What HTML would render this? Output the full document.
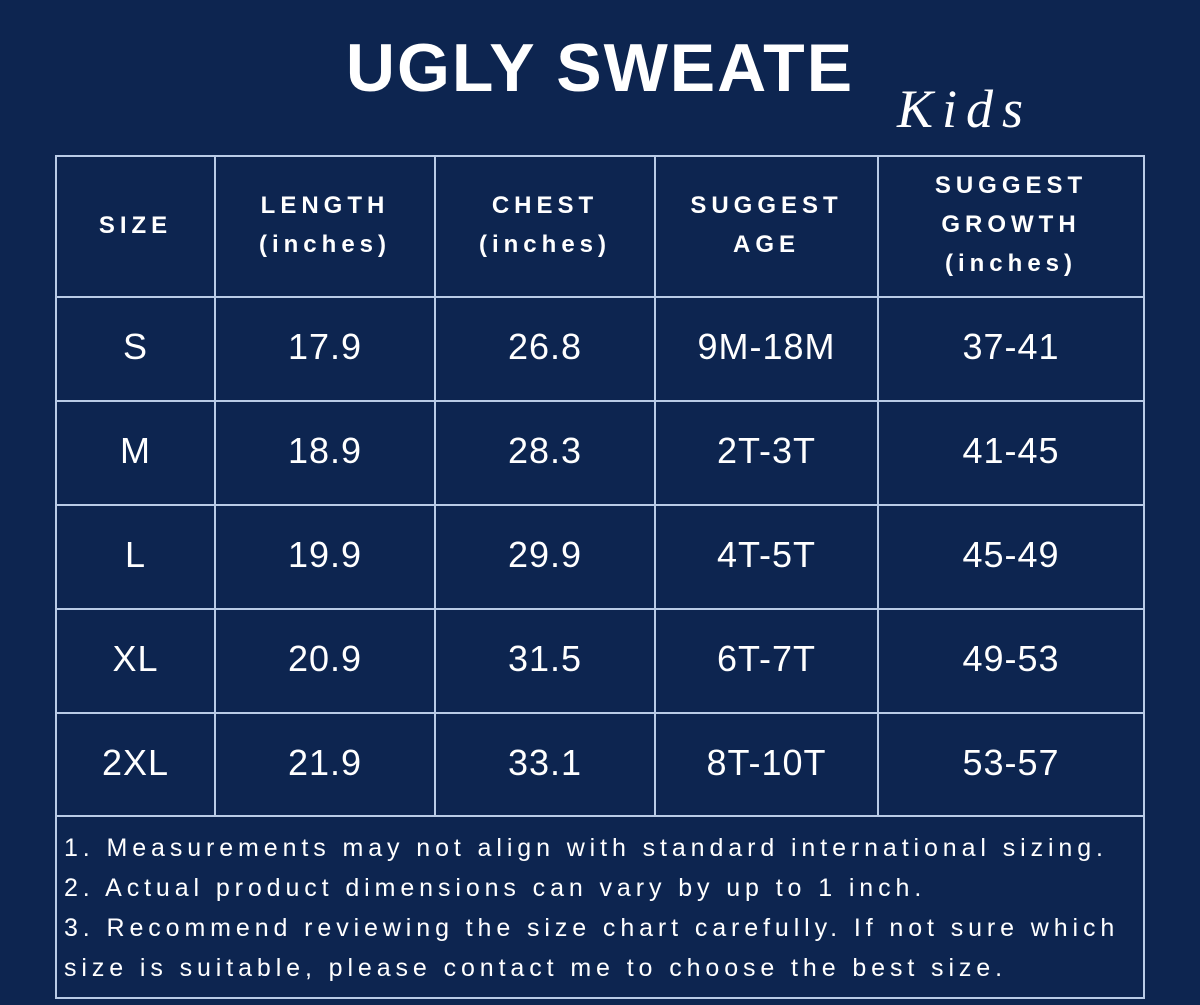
<!DOCTYPE html>
<html><head><meta charset="utf-8"><style>
body{margin:0;width:1200px;height:1005px;background:#0d2550;overflow:hidden;font-family:"Liberation Sans",sans-serif;color:#fff;position:relative}
.t{position:absolute;text-align:center;white-space:nowrap}
.h{position:absolute;left:55px;width:1090px;height:2px;background:#b9cbe6}
.v{position:absolute;top:155px;height:662px;width:2px;background:#b9cbe6}
.hd{font-weight:bold;font-size:24px;letter-spacing:5px;line-height:39px}
.c{font-size:36px;line-height:40px;letter-spacing:1px}
.n{position:absolute;left:64px;font-size:25px;letter-spacing:4.9px;white-space:nowrap}
</style></head><body>
<div class="t" style="left:0;width:1200px;top:29px;font-size:68px;font-weight:bold;letter-spacing:2px;">UGLY SWEATE</div>
<div class="t" style="left:897px;top:78px;font-family:'Liberation Serif',serif;font-style:italic;font-size:54px;letter-spacing:9px">Kids</div>
<div class="h" style="top:155px"></div>
<div class="h" style="top:296px"></div>
<div class="h" style="top:400px"></div>
<div class="h" style="top:504px"></div>
<div class="h" style="top:608px"></div>
<div class="h" style="top:712px"></div>
<div class="h" style="top:815px"></div>
<div class="h" style="top:997px"></div>
<div class="v" style="left:55px;height:844px"></div>
<div class="v" style="left:214px"></div>
<div class="v" style="left:434px"></div>
<div class="v" style="left:654px"></div>
<div class="v" style="left:877px"></div>
<div class="v" style="left:1143px;height:844px"></div>
<div class="t hd" style="left:57px;width:157px;top:206px">SIZE</div>
<div class="t hd" style="left:216px;width:218px;top:186px">LENGTH<br>(inches)</div>
<div class="t hd" style="left:436px;width:218px;top:186px">CHEST<br>(inches)</div>
<div class="t hd" style="left:656px;width:221px;top:186px">SUGGEST<br>AGE</div>
<div class="t hd" style="left:879px;width:264px;top:166px">SUGGEST<br>GROWTH<br>(inches)</div>
<div class="t c" style="left:57px;width:157px;top:327px">S</div><div class="t c" style="left:216px;width:218px;top:327px">17.9</div><div class="t c" style="left:436px;width:218px;top:327px">26.8</div><div class="t c" style="left:656px;width:221px;top:327px">9M-18M</div><div class="t c" style="left:879px;width:264px;top:327px">37-41</div>
<div class="t c" style="left:57px;width:157px;top:431px">M</div><div class="t c" style="left:216px;width:218px;top:431px">18.9</div><div class="t c" style="left:436px;width:218px;top:431px">28.3</div><div class="t c" style="left:656px;width:221px;top:431px">2T-3T</div><div class="t c" style="left:879px;width:264px;top:431px">41-45</div>
<div class="t c" style="left:57px;width:157px;top:535px">L</div><div class="t c" style="left:216px;width:218px;top:535px">19.9</div><div class="t c" style="left:436px;width:218px;top:535px">29.9</div><div class="t c" style="left:656px;width:221px;top:535px">4T-5T</div><div class="t c" style="left:879px;width:264px;top:535px">45-49</div>
<div class="t c" style="left:57px;width:157px;top:639px">XL</div><div class="t c" style="left:216px;width:218px;top:639px">20.9</div><div class="t c" style="left:436px;width:218px;top:639px">31.5</div><div class="t c" style="left:656px;width:221px;top:639px">6T-7T</div><div class="t c" style="left:879px;width:264px;top:639px">49-53</div>
<div class="t c" style="left:57px;width:157px;top:743px">2XL</div><div class="t c" style="left:216px;width:218px;top:743px">21.9</div><div class="t c" style="left:436px;width:218px;top:743px">33.1</div><div class="t c" style="left:656px;width:221px;top:743px">8T-10T</div><div class="t c" style="left:879px;width:264px;top:743px">53-57</div>
<div class="n" style="top:834px">1. Measurements may not align with standard international sizing.</div>
<div class="n" style="top:874px">2. Actual product dimensions can vary by up to 1 inch.</div>
<div class="n" style="top:914px">3. Recommend reviewing the size chart carefully. If not sure which</div>
<div class="n" style="top:954px">size is suitable, please contact me to choose the best size.</div>
</body></html>
